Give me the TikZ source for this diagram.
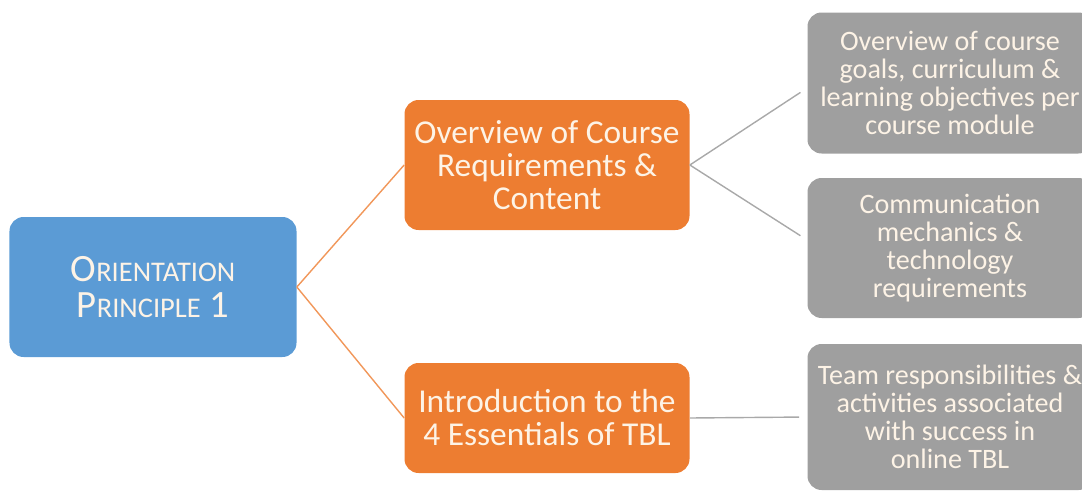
\documentclass[tikz,border=0pt]{standalone}
\usepackage{fontspec}
\setmainfont{Carlito}
\usetikzlibrary{positioning}
\definecolor{mainblue}{HTML}{5B9BD5}
\definecolor{mainorange}{HTML}{ED7D31}
\definecolor{maingray}{HTML}{9F9F9F}
\definecolor{textcream}{HTML}{FDF3E6}
\newcommand{\capsmall}[1]{{\fontsize{16.2}{21}\selectfont #1}}
\tikzset{
  rootbox/.style = {rounded corners=8pt, fill=mainblue, text=textcream, align=center,
    minimum width=5.74cm, minimum height=2.8cm, font=\fontsize{22}{21}\selectfont},
  topicbox/.style = {rounded corners=8pt, fill=mainorange, text=textcream, align=center,
    minimum width=5.7cm, font=\fontsize{19}{18.8}\selectfont},
  detailbox/.style = {rounded corners=8pt, fill=maingray, text=textcream, align=center,
    minimum width=5.7cm, font=\fontsize{16}{15.9}\selectfont},
  orangelink/.style = {mainorange!80, line width=0.8pt},
  graylink/.style = {maingray!90, line width=0.8pt, shorten >=0.16cm}
  }
\begin{document}
\begin{tikzpicture}
\useasboundingbox (0,0) rectangle (21.64,9.8);
\clip (0,0) rectangle (21.64,9.8);
\node[rootbox] (root) at (3.06,4.06) {O\capsmall{RIENTATION}\\P\capsmall{RINCIPLE} 1};
\node[topicbox, minimum height=2.6cm] (overview) at (10.94,6.5) {Overview of Course\\Requirements \&\\Content};
\node[topicbox, minimum height=2.2cm] (intro) at (10.94,1.44) {Introduction to the\\4 Essentials of TBL};
\node[detailbox, minimum height=2.82cm] (goals) at (19.0,8.14) {Overview of course\\goals, curriculum \&\\learning objectives per\\course module};
\node[detailbox, minimum height=2.8cm] (comms) at (19.0,4.84) {Communication\\mechanics \&\\technology\\requirements};
\node[detailbox, minimum height=2.92cm] (team) at (19.0,1.46) {Team responsibilities \&\\activities associated\\with success in\\online TBL};

\draw[orangelink] (root.east) -- (overview.west);
\draw[orangelink] (root.east) -- (intro.west);
\draw[graylink] (overview.east) -- ([yshift=-0.1cm]goals.west);
\draw[graylink] (overview.east) -- ([yshift=0.16cm]comms.west);
\draw[graylink] (intro.east) -- (team.west);
\end{tikzpicture}
\end{document}
